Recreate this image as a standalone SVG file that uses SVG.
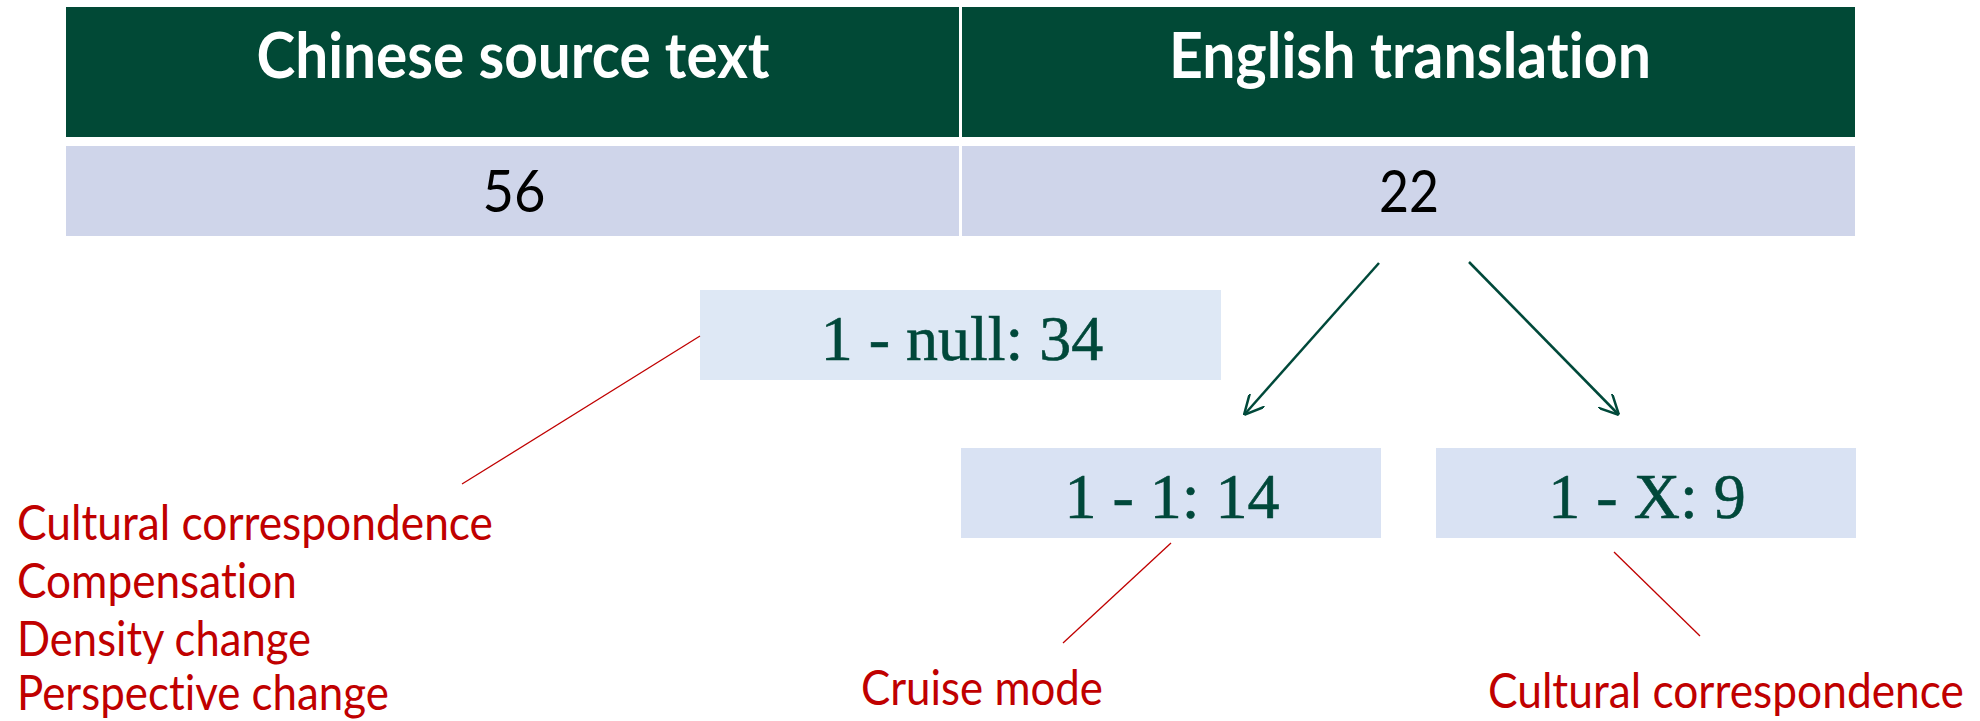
<svg xmlns="http://www.w3.org/2000/svg" width="1980" height="721" viewBox="0 0 1980 721">
  <style>
    text { font-variant-ligatures: none; }
    .hdr { fill: #014936; }
    .cell { fill: #cfd5ea; }
    .hdr-text { font-family: Lato, "Open Sans", sans-serif; font-weight: 700; font-size: 64px; fill: #ffffff; text-anchor: middle; }
    .num-text { font-family: Lato, "Open Sans", sans-serif; font-size: 59px; fill: #000000; text-anchor: middle; }
    .box-null { fill: #dee8f5; }
    .box { fill: #d9e2f3; }
    .box-text { font-family: "Liberation Serif", "Times New Roman", serif; font-size: 64px; fill: #00483a; text-anchor: middle; stroke: #00483a; stroke-width: 0.6; }
    .note { font-family: Lato, "Open Sans", sans-serif; font-size: 48px; fill: #c00000; }
    .arrow { stroke: #00493a; stroke-width: 2.5; fill: none; marker-end: url(#head); }
    .lead { stroke: #c00000; stroke-width: 1.3; fill: none; }
  </style>
  <defs>
    <marker id="head" viewBox="0 0 10 10" refX="10" refY="5" markerWidth="20" markerHeight="20" markerUnits="userSpaceOnUse" orient="auto">
      <path d="M0,0 L10,5 L0,10" fill="none" stroke="#00493a" stroke-width="1.25" stroke-linejoin="miter"/>
    </marker>
  </defs>

  <rect width="1980" height="721" fill="#ffffff"/>

  <!-- table: header row and counts row -->
  <g id="table">
    <g id="hdr-source">
      <rect class="hdr" x="66" y="7" width="893" height="130"/>
      <text class="hdr-text" x="513" y="78" textLength="513" lengthAdjust="spacingAndGlyphs">Chinese source text</text>
    </g>
    <g id="hdr-target">
      <rect class="hdr" x="962" y="7" width="893" height="130"/>
      <text class="hdr-text" x="1410" y="78" textLength="482" lengthAdjust="spacingAndGlyphs">English translation</text>
    </g>
    <g id="count-source">
      <rect class="cell" x="66" y="146" width="893" height="90"/>
      <text class="num-text" x="514" y="212" textLength="63" lengthAdjust="spacingAndGlyphs">56</text>
    </g>
    <g id="count-target">
      <rect class="cell" x="962" y="146" width="893" height="90"/>
      <text class="num-text" x="1409" y="212" textLength="60" lengthAdjust="spacingAndGlyphs">22</text>
    </g>
  </g>

  <!-- correspondence categories -->
  <g id="one-null">
    <rect class="box-null" x="700" y="290" width="521" height="90"/>
    <text class="box-text" x="962" y="360">1 - null: 34</text>
  </g>
  <g id="one-one">
    <rect class="box" x="961" y="448" width="420" height="90"/>
    <text class="box-text" x="1172" y="518">1 - 1: 14</text>
  </g>
  <g id="one-x">
    <rect class="box" x="1436" y="448" width="420" height="90"/>
    <text class="box-text" x="1647" y="518">1 - X: 9</text>
  </g>

  <!-- strategy notes -->
  <g id="notes-null">
    <text class="note" x="17" y="540" textLength="476" lengthAdjust="spacingAndGlyphs">Cultural correspondence</text>
    <text class="note" x="17" y="598" textLength="280" lengthAdjust="spacingAndGlyphs">Compensation</text>
    <text class="note" x="17" y="656" textLength="294" lengthAdjust="spacingAndGlyphs">Density change</text>
    <text class="note" x="17" y="710" textLength="372" lengthAdjust="spacingAndGlyphs">Perspective change</text>
  </g>
  <g id="notes-one">
    <text class="note" x="861" y="705" textLength="242" lengthAdjust="spacingAndGlyphs">Cruise mode</text>
  </g>
  <g id="notes-x">
    <!-- narrowed horizontally so the label stays inside the right edge -->
    <text class="note" transform="translate(1488 708) scale(0.95 1)" x="0" y="0" textLength="501" lengthAdjust="spacingAndGlyphs">Cultural correspondence</text>
  </g>

  <!-- connectors -->
  <g id="connectors">
    <line class="arrow" x1="1379" y1="263" x2="1244" y2="415"/>
    <line class="arrow" x1="1469" y1="262" x2="1619" y2="415"/>
    <line class="lead" x1="700" y1="336" x2="462" y2="484"/>
    <line class="lead" x1="1171" y1="543" x2="1063" y2="643"/>
    <line class="lead" x1="1614" y1="552" x2="1700" y2="636"/>
  </g>
</svg>
